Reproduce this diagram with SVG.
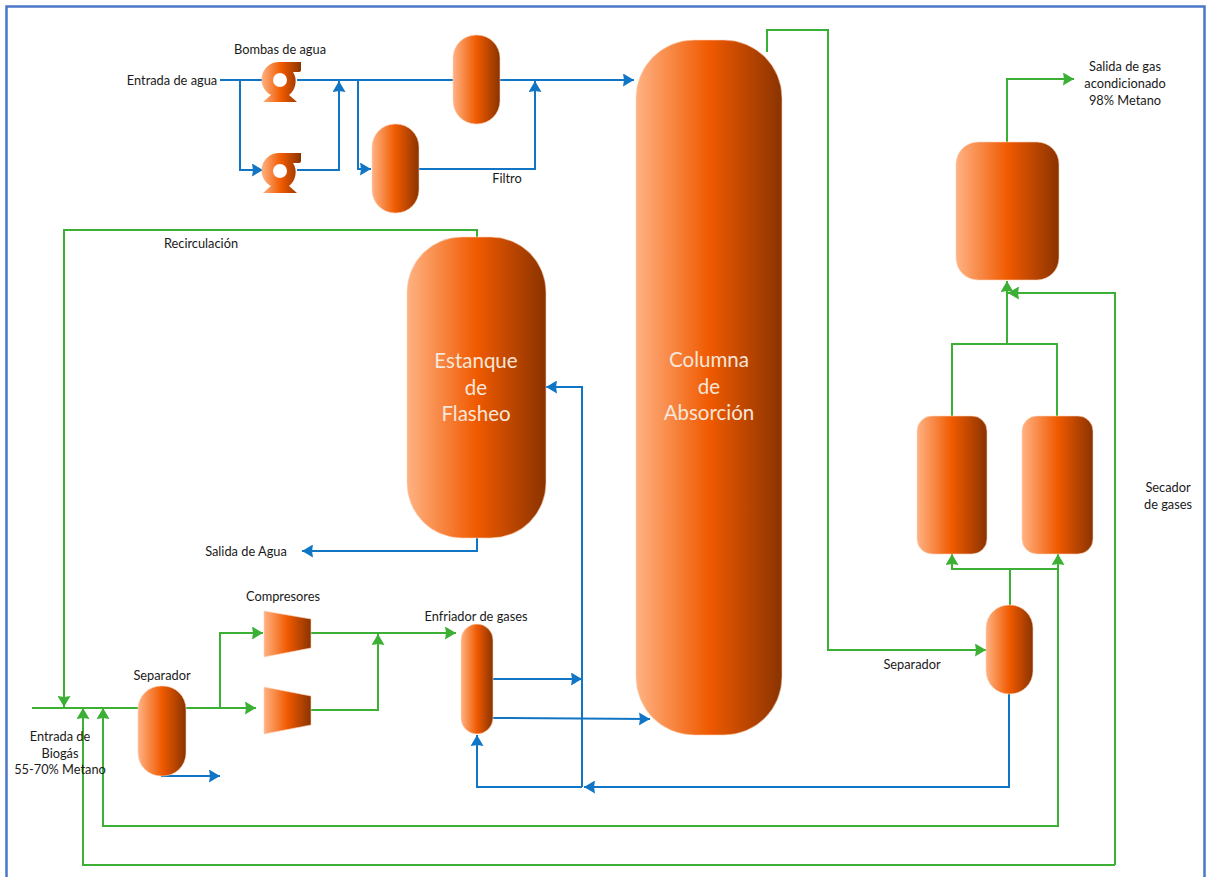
<svg xmlns="http://www.w3.org/2000/svg" width="1206" height="877" viewBox="0 0 1206 877">
<style>
text{font-family:Lato,"Open Sans","Liberation Sans",sans-serif;font-size:12.800px;fill:#1a1a1a;text-anchor:middle}
text.big{font-size:20.500px;fill:#f7e6da}
.v{fill:url(#g);stroke:#fbd5bd;stroke-width:.6}
.b,.gr{fill:none;stroke-width:2}
.b{stroke:#0f75c4}
.gr{stroke:#3cb034}
.b{marker-end:url(#ab)}
.gr{marker-end:url(#ag)}
.n{marker-end:none}
</style>
<defs>
<linearGradient id="g" x1="0" y1="0" x2="1" y2="0"><stop offset="0" stop-color="#ffb283"/><stop offset=".5" stop-color="#f05a00"/><stop offset="1" stop-color="#8a3300"/></linearGradient>
<marker id="ab" markerUnits="userSpaceOnUse" markerWidth="12" markerHeight="13" refX="11" refY="6.500" orient="auto"><path d="M0 0L11 6.500L0 13L1 6.500Z" fill="#0f75c4"/></marker>
<marker id="ag" markerUnits="userSpaceOnUse" markerWidth="12" markerHeight="13" refX="11" refY="6.500" orient="auto"><path d="M0 0L11 6.500L0 13L1 6.500Z" fill="#3cb034"/></marker>
<path id="pump" d="M0-18H21V-10Q21-8 18-8H13A17.500 17.500 0 0 1 9 15L17 22H-17L-9 15A17.500 17.500 0 0 1 0-18ZM0-7A7 7 0 1 0 0 7A7 7 0 1 0 0-7Z" fill="url(#g)" fill-rule="evenodd"/>
</defs>
<rect width="1206" height="877" fill="#fff"/>
<path d="M6.500 880V6.500H1204.500V880" fill="none" stroke="#4a78c8" stroke-width="2.500"/>
<g id="connectors">
<path class="b n" d="M220 80H262"/><path class="b" d="M297 80H634"/>
<path class="b" d="M240 80V170H263"/>
<path class="b" d="M297 170H339V81"/>
<path class="b" d="M358 80V169H371"/>
<path class="b" d="M419 169H535V81"/>
<path class="b" d="M477 538V551H302"/>
<path class="b" d="M161 776H220"/>
<path class="b" d="M493 679H582"/>
<path class="b" d="M493 718L650 719"/>
<path class="b" d="M582 787V387H546"/>
<path class="b" d="M1009 694V787H584"/>
<path class="b" d="M582 787H477V735"/>
<path class="gr" d="M767 52V30H828V650H986"/>
<path class="gr" d="M1007 142V79H1074"/>
<path class="gr" d="M477 237V230H64V707"/>
<path class="gr n" d="M32 708H138"/>
<path class="gr" d="M186 708H256"/>
<path class="gr" d="M220 708V633H263"/>
<path class="gr" d="M311 633H456"/>
<path class="gr" d="M311 710H378V634"/>
<path class="gr" d="M1010 605V569H952V554"/>
<path class="gr" d="M1010 569H1058V554"/>
<path class="gr" d="M1058 569V826H103V708"/>
<path class="gr" d="M1115 865H83V708"/>
<path class="gr" d="M1115 865V293H1008"/>
<path class="gr n" d="M952 416V344H1057V416"/>
<path class="gr" d="M1007 344V281"/>
</g>
<g id="bomba1"><use href="#pump" x="280" y="80"/></g>
<g id="bomba2"><use href="#pump" x="280" y="171"/></g>
<g id="filtro1"><rect class="v" x="453" y="35" width="47" height="89" rx="23"/></g>
<g id="filtro2"><rect class="v" x="372" y="124" width="47" height="89" rx="23"/></g>
<g id="columna"><rect class="v" x="636" y="40" width="146" height="695" rx="58"/><text class="big" x="709" y="367">Columna</text><text class="big" x="709" y="394">de</text><text class="big" x="709" y="420">Absorción</text></g>
<g id="estanque"><rect class="v" x="407" y="237" width="139" height="301" rx="55"/><text class="big" x="476" y="368">Estanque</text><text class="big" x="476" y="395">de</text><text class="big" x="476" y="421">Flasheo</text></g>
<g id="acondicionador"><rect class="v" x="956" y="142" width="103" height="138" rx="22"/></g>
<g id="secador1"><rect class="v" x="917" y="416" width="70" height="138" rx="15"/></g>
<g id="secador2"><rect class="v" x="1022" y="416" width="71" height="138" rx="15"/></g>
<g id="separador-derecho"><rect class="v" x="986" y="605" width="47" height="89" rx="23"/></g>
<g id="separador-izquierdo"><rect class="v" x="138" y="686" width="48" height="90" rx="23"/></g>
<g id="enfriador"><rect class="v" x="461" y="624" width="32" height="110" rx="16"/></g>
<g id="compresor1"><path class="v" d="M264 611L311 619V648L264 657Z"/></g>
<g id="compresor2"><path class="v" d="M264 687L311 696V725L264 734Z"/></g>
<g id="etiquetas">
<text x="280" y="54">Bombas de agua</text>
<text x="172" y="85">Entrada de agua</text>
<text x="507" y="183">Filtro</text>
<text x="201" y="248">Recirculación</text>
<text x="246" y="556">Salida de Agua</text>
<text x="283" y="601">Compresores</text>
<text x="162" y="680">Separador</text>
<text x="476" y="621">Enfriador de gases</text>
<text x="912" y="669">Separador</text>
<text x="60" y="741">Entrada de</text>
<text x="60" y="758">Biogás</text>
<text x="60" y="774">55-70% Metano</text>
<text x="1168" y="492">Secador</text>
<text x="1168" y="509">de gases</text>
<text x="1125" y="71">Salida de gas</text>
<text x="1125" y="88">acondicionado</text>
<text x="1125" y="105">98% Metano</text>
</g>
</svg>
